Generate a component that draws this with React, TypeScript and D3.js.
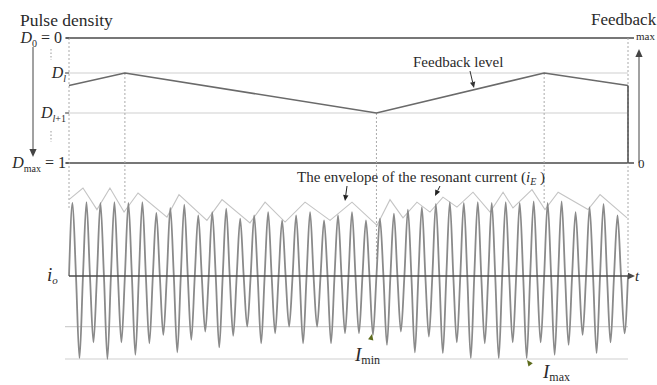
import React from "react";
import * as d3 from "d3";

// ---- data ----
const CYCLES = 40;
// positive peaks of the resonant current, one per cycle (I_max = -100 units)
const peaks = [88, 89, 88, 89, 88, 89, 76, 82, 86, 73, 77, 81, 69, 73, 77, 67, 73, 77, 67, 73,
  77, 67, 69, 75, 80, 83, 87, 89, 88, 89, 88, 89, 88, 90, 88, 90, 77, 83, 87, 73];
// negative troughs, one per cycle
const troughs = [-99, -80, -100, -80, -95, -81, -71, -92, -77, -67, -86, -72, -61, -81, -69, -61, -81, -61, -81, -69,
  -69, -71, -83, -67, -92, -73, -93, -80, -99, -81, -99, -80, -99, -80, -95, -83, -71, -93, -80, -69];
// envelope vertices (time in cycles, current)
const envT = [0, 1.0, 2.0, 2.93, 3.94, 4.94, 7.01, 7.87, 9.87, 10.95, 12.95, 14.03, 15.46, 16.89, 18.68, 20.25,
  22.04, 22.97, 23.9, 24.9, 25.83, 26.76, 27.76, 28.91, 30.13, 31.06, 31.77, 33.13, 34.06, 35.0, 37.14, 38.0, 39.93];
const envV = [92, 106, 80, 106, 77, 100, 71, 98, 67, 92, 64, 89, 65, 89, 67, 89,
  61, 92, 70, 89, 77, 95, 83, 101, 77, 101, 82, 104, 80, 101, 80, 98, 70];
// feedback level (time in cycles, pulse density)
const fbT = [0, 4, 22, 34, 40];
const fbD = [0.38, 0.28, 0.6, 0.28, 0.38];
// pulse-density levels
const densityLevels = [0, 0.28, 0.6, 1];
const I_MIN = -61;
const I_MAX = -100;

const FONT = "'Liberation Serif', 'Times New Roman', serif";
const DARK = "#4a4a4a";
const TXT = "#2a2a2a";

function Arrow({ x1, y1, x2, y2, color = "#333", size = 7, width = 1, line = true }:
  { x1: number; y1: number; x2: number; y2: number; color?: string; size?: number; width?: number; line?: boolean }) {
  const a = Math.atan2(y2 - y1, x2 - x1);
  const hw = size * 0.45;
  const bx = x2 - size * Math.cos(a);
  const by = y2 - size * Math.sin(a);
  const p1 = [bx + hw * Math.sin(a), by - hw * Math.cos(a)];
  const p2 = [bx - hw * Math.sin(a), by + hw * Math.cos(a)];
  return (
    <g>
      {line && <line x1={x1} y1={y1} x2={bx} y2={by} stroke={color} strokeWidth={width} />}
      <polygon points={`${x2},${y2} ${p1[0]},${p1[1]} ${p2[0]},${p2[1]}`} fill={color} />
    </g>
  );
}

export default function App() {
  const W = 657, H = 385;
  const x = d3.scaleLinear().domain([0, CYCLES]).range([69, 628]);
  const yD = d3.scaleLinear().domain([0, 1]).range([38, 163]);
  const yI = d3.scaleLinear().domain([-100, 100]).range([359, 193]);

  const wavePts: [number, number][] = [];
  peaks.forEach((p, k) => {
    wavePts.push([k, 0], [k + 0.25, p], [k + 0.5, 0], [k + 0.75, troughs[k]]);
  });
  wavePts.push([CYCLES, 0]);
  const waveLine = d3.line<[number, number]>()
    .x(d => x(d[0])).y(d => yI(d[1])).curve(d3.curveMonotoneX);

  const envLine = d3.line<number>().x((_, i) => x(envT[i])).y(d => yI(d));
  const fbLine = d3.line<number>().x((_, i) => x(fbT[i])).y(d => yD(d));

  const x0 = x(0), xE = x(CYCLES);
  const xA = x(fbT[1]), xB = x(fbT[2]), xC = x(fbT[3]);
  const lx = 66; // right edge of density labels

  return (
    <svg width={W} height={H} style={{ position: "absolute", left: 0, top: 0, background: "#fff" }}
      fontFamily={FONT}>
      <rect width={W} height={H} fill="#fff" />
      {/* density gridlines */}
      {densityLevels.map((d, i) => {
        const dark = i === 0 || i === densityLevels.length - 1;
        return (
          <line key={i} x1={x0 - 3} x2={dark ? xE + 6 : xE} y1={yD(d)} y2={yD(d)}
            stroke={dark ? DARK : "#cfcfcf"} strokeWidth={dark ? 1.5 : 1.2} />
        );
      })}
      {/* current level lines */}
      {[I_MIN, I_MAX].map((v, i) => (
        <line key={i} x1={x0 - 4} x2={xE} y1={yI(v)} y2={yI(v)} stroke="#cfcfcf" strokeWidth={1.2} />
      ))}
      {/* vertical dotted guides */}
      <line x1={x0} x2={x0} y1={yD(0)} y2={yI(80)} stroke="#aaa" strokeDasharray="2,2" />
      <line x1={xA} x2={xA} y1={yD(fbD[1])} y2={yI(86)} stroke="#aaa" strokeDasharray="2,2" />
      <line x1={xB} x2={xB} y1={yD(fbD[2])} y2={yI(20)} stroke="#aaa" strokeDasharray="2,2" />
      <line x1={xC} x2={xC} y1={yD(fbD[3])} y2={yI(88)} stroke="#aaa" strokeDasharray="2,2" />
      <line x1={xE} x2={xE} y1={yD(0)} y2={yI(0)} stroke="#aaa" strokeDasharray="2,2" />
      <line x1={xE} x2={xE} y1={yD(fbD[4])} y2={yD(1)} stroke={DARK} strokeWidth={1.5} />
      {/* left axis ticks */}
      {densityLevels.map((d, i) => (
        <line key={i} x1={x0 - 4} x2={x0} y1={yD(d)} y2={yD(d)} stroke={DARK} />
      ))}
      {/* feedback level */}
      <path d={fbLine(fbD) || ""} fill="none" stroke="#6a6a6a" strokeWidth={1.6} />
      {/* envelope */}
      <path d={envLine(envV) || ""} fill="none" stroke="#c4c4c4" strokeWidth={1.1} />
      {/* wave */}
      <path d={waveLine(wavePts) || ""} fill="none" stroke="#8a8a8a" strokeWidth={1.8} />
      {/* time axis */}
      <Arrow x1={x0} y1={yI(0)} x2={xE + 7} y2={yI(0)} color={DARK} width={1.5} size={7} />

      {/* left density arrow */}
      <Arrow x1={33} y1={47} x2={33} y2={157} color="#444" size={8} width={1} />
      {/* right feedback arrow */}
      <Arrow x1={639} y1={yD(1)} x2={639} y2={49} color="#444" size={8} width={1} />
      {/* dotted ellipses on left */}
      <line x1={51} x2={51} y1={49} y2={60} stroke="#999" strokeDasharray="1.5,2" />
      <line x1={51} x2={51} y1={131} y2={142} stroke="#999" strokeDasharray="1.5,2" />

      {/* titles */}
      <text x={20} y={26} fontSize={17.5} fill={TXT}>Pulse density</text>
      <text x={591} y={25} fontSize={17} fill={TXT}>Feedback</text>
      <text x={636} y={40} fontSize={11} fill={TXT}>max</text>
      <text x={638} y={168} fontSize={13} fill={TXT}>0</text>

      {/* density labels */}
      <text x={lx - 4} y={yD(0) + 5} fontSize={16} fill={TXT} textAnchor="end">
        <tspan fontStyle="italic">D</tspan><tspan fontSize={10} dy={4}>0</tspan><tspan dy={-4}> = 0</tspan>
      </text>
      <text x={lx} y={yD(densityLevels[1]) + 5} fontSize={16} fill={TXT} textAnchor="end">
        <tspan fontStyle="italic">D</tspan><tspan fontSize={10} dy={4} fontStyle="italic">l</tspan>
      </text>
      <text x={lx} y={yD(densityLevels[2]) + 5} fontSize={16} fill={TXT} textAnchor="end">
        <tspan fontStyle="italic">D</tspan><tspan fontSize={10} dy={4}><tspan fontStyle="italic">l</tspan>+1</tspan>
      </text>
      <text x={lx} y={yD(1) + 5} fontSize={16} fill={TXT} textAnchor="end">
        <tspan fontStyle="italic">D</tspan><tspan fontSize={10} dy={4}>max</tspan><tspan dy={-4}> = 1</tspan>
      </text>

      {/* feedback level label */}
      <text x={413} y={67} fontSize={15} fill={TXT}>Feedback level</text>
      <Arrow x1={470} y1={71} x2={474} y2={88} color="#333" size={6} />

      {/* envelope label */}
      <text x={297} y={182} fontSize={15} fill={TXT}>
        The envelope of the resonant current (<tspan fontStyle="italic">i</tspan>
        <tspan fontSize={10} fontStyle="italic" dy={3}>E</tspan><tspan dy={-3}> )</tspan>
      </text>
      <Arrow x1={347} y1={186} x2={345} y2={201} color="#222" size={6} />
      <Arrow x1={440} y1={186} x2={435} y2={196} color="#222" size={6} />

      {/* current labels */}
      <text x={47} y={281} fontSize={19} fill={TXT}>
        <tspan fontStyle="italic">i</tspan><tspan fontSize={11} fontStyle="italic" dy={3}>o</tspan>
      </text>
      <text x={635} y={281} fontSize={15} fontStyle="italic" fill={TXT}>t</text>
      <text x={355} y={361} fontSize={19} fill={TXT}>
        <tspan fontStyle="italic">I</tspan><tspan fontSize={12} dy={3}>min</tspan>
      </text>
      <Arrow x1={370} y1={343} x2={372} y2={334} color="#5d6b1c" size={6} line={false} />
      <text x={543} y={378} fontSize={19} fill={TXT}>
        <tspan fontStyle="italic">I</tspan><tspan fontSize={12} dy={3}>max</tspan>
      </text>
      <Arrow x1={533} y1={368} x2={527} y2={360} color="#5d6b1c" size={6} line={false} />
    </svg>
  );
}
